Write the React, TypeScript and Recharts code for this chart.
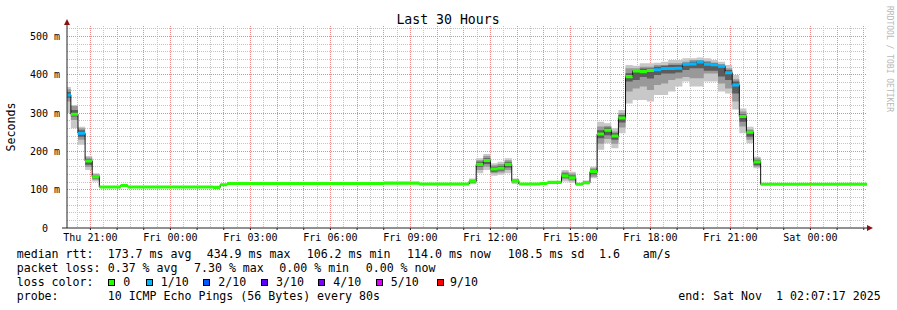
import React from "react";
import { ComposedChart, Area, XAxis, YAxis, CartesianGrid } from "recharts";

// time axis in hours relative to Thu 21:00, data consolidated in 16 minute steps
const FIRST_STEP = -1;
const STEP = 16 / 60;
const END = 29 + 7 / 60 + 17 / 3600; // Sat Nov 1 02:07:17
const START = END - 30;
const Y_MAX = 527;
const BOX = 4; // half height of the coloured median marker

// median rtt per step (ms)
const medianRtt = [
	347, 297, 247, 175, 134, 107, 107, 107, 111, 107,
	107, 107, 107, 107, 107, 107, 107, 107, 107, 107,
	107, 106, 113, 116, 116, 116, 116, 116, 116, 116,
	116, 116, 116, 116, 116, 116, 116, 116, 116, 116,
	116, 116, 116, 116, 116, 117, 117, 117, 117, 117,
	115, 115, 115, 115, 115, 115, 115, 122, 166, 176,
	154, 156, 166, 123, 115, 115, 115, 116, 119, 119,
	136, 131, 114, 118, 147, 245, 255, 240, 287, 395,
	410, 408, 411, 413, 416, 416, 417, 427, 428, 433,
	427, 426, 422, 405, 373, 291, 250, 172, 114, 114,
	114, 114, 114, 114, 114, 114, 114, 114, 114, 114,
	114, 114, 114,
];

// lost pings out of 10 per step
const lossTenths = [
	1, 0, 1, 0, 0, 0, 0, 0, 0, 0,
	0, 0, 0, 0, 0, 0, 0, 0, 0, 0,
	0, 0, 0, 0, 0, 0, 0, 0, 0, 0,
	0, 0, 0, 0, 0, 0, 0, 0, 0, 0,
	0, 0, 0, 0, 0, 0, 0, 0, 0, 0,
	0, 0, 0, 0, 0, 0, 0, 0, 0, 0,
	0, 0, 0, 0, 0, 0, 0, 0, 0, 0,
	0, 0, 0, 0, 0, 0, 0, 0, 0, 0,
	0, 0, 0, 1, 1, 1, 1, 1, 1, 1,
	1, 1, 1, 1, 1, 0, 0, 0, 0, 0,
	0, 0, 0, 0, 0, 0, 0, 0, 0, 0,
	0, 0, 0,
];

// smoke bands: [step, low, high] in ms
const smokeOuter: [number, number, number][] = [
	[0, 300, 368], [1, 260, 321], [2, 217, 264], [3, 151, 188], [4, 121, 143],
	[57, 114, 129], [58, 143, 182], [59, 151, 193], [60, 136, 169], [61, 139, 173],
	[62, 143, 182], [63, 115, 129], [70, 121, 151], [71, 118, 147], [73, 114, 124],
	[74, 130, 160], [75, 204, 277], [76, 221, 273], [77, 208, 260], [78, 247, 308],
	[79, 325, 425], [80, 334, 423], [81, 334, 430], [82, 330, 430], [83, 347, 431],
	[84, 347, 434], [85, 356, 438], [86, 369, 438], [87, 382, 443], [88, 369, 443],
	[89, 369, 445], [90, 382, 443], [91, 382, 438], [92, 356, 434], [93, 351, 425],
	[94, 309, 399], [95, 247, 312], [96, 221, 264], [97, 156, 186],
];
const smokeMid: [number, number, number][] = [
	[0, 330, 362], [1, 282, 318], [2, 230, 260], [3, 159, 184], [4, 126, 140],
	[57, 117, 126], [58, 151, 177], [59, 160, 188], [60, 143, 164], [61, 145, 167],
	[62, 151, 177], [63, 118, 127], [70, 127, 147], [71, 123, 142], [73, 115, 122],
	[74, 134, 156], [75, 220, 265], [76, 232, 266], [77, 220, 252], [78, 262, 300],
	[79, 356, 417], [80, 364, 417], [81, 369, 421], [82, 360, 421], [83, 373, 425],
	[84, 377, 425], [85, 386, 430], [86, 390, 430], [87, 394, 434], [88, 391, 438],
	[89, 391, 438], [90, 403, 436], [91, 403, 432], [92, 377, 428], [93, 364, 417],
	[94, 330, 388], [95, 265, 304], [96, 230, 257], [97, 160, 182],
];
const smokeInner: [number, number, number][] = [
	[0, 340, 355], [1, 291, 308], [2, 238, 255], [3, 165, 180], [4, 130, 138],
	[57, 119, 124], [58, 160, 173], [59, 167, 182], [60, 147, 160], [61, 150, 162],
	[62, 158, 172], [63, 120, 125], [70, 131, 142], [71, 127, 137], [73, 116, 120],
	[74, 140, 152], [75, 234, 255], [76, 242, 262], [77, 230, 247], [78, 275, 295],
	[79, 382, 404], [80, 386, 412], [81, 394, 416], [82, 390, 416], [83, 399, 421],
	[84, 403, 423], [85, 403, 425], [86, 406, 425], [87, 412, 430], [88, 417, 434],
	[89, 417, 436], [90, 410, 432], [91, 410, 430], [92, 395, 425], [93, 386, 412],
	[94, 351, 382], [95, 277, 297], [96, 238, 254], [97, 164, 177],
];

const xTickHours = [0, 3, 6, 9, 12, 15, 18, 21, 24, 27];
const xTickLabels = ["Thu 21:00", "Fri 00:00", "Fri 03:00", "Fri 06:00", "Fri 09:00", "Fri 12:00", "Fri 15:00", "Fri 18:00", "Fri 21:00", "Sat 00:00"];
const yTicks = [0, 100, 200, 300, 400, 500];

const lossLevels = [0, 1, 2, 3, 4, 5, 9];
const lossLabels = ["0", "1/10", "2/10", "3/10", "4/10", "5/10", "9/10"];
const lossColors = ["#26ff00", "#00b8ff", "#0059ff", "#5e00ff", "#7e00ff", "#dd00ff", "#ff0000"];

const SMOKE_COLORS = ["#c8c8c8", "#999999", "#5c5c5c"];
const FONT = "'DejaVu Sans Mono', monospace";

const bandAt = (band: [number, number, number][], k: number) => {
	const hit = band.find((b) => b[0] === k);
	return hit ? [hit[1], hit[2]] : null;
};

// two rows per step so every step is drawn as a flat segment
const rows: any[] = [];
medianRtt.forEach((m, k) => {
	const t0 = Math.max(FIRST_STEP + k * STEP, START);
	const t1 = Math.min(FIRST_STEP + (k + 1) * STEP, END);
	const row: any = {
		median: m,
		outer: bandAt(smokeOuter, k),
		mid: bandAt(smokeMid, k),
		inner: bandAt(smokeInner, k),
	};
	lossLevels.forEach((lvl) => {
		row[`box${lvl}`] = lossTenths[k] === lvl ? [m - BOX, m + BOX] : null;
	});
	rows.push({ t: t0, ...row }, { t: t1, ...row });
});

const hourLines: number[] = [];
const halfHourLines: number[] = [];
for (let h = 0; h <= 29; h++) hourLines.push(h);
for (let h = -0.5; h <= 29; h++) halfHourLines.push(h);
const minorY: number[] = [];
for (let v = 20; v <= 520; v += 20) if (v % 100 !== 0) minorY.push(v);
const majorY = [100, 200, 300, 400, 500];

// grid positions, same linear mapping as the axes use, snapped to pixel centres
const snap = (px: number) => Math.floor(px) + 0.5;
const xGrid = (values: number[]) => (p: any) =>
	values.map((h) => snap(p.offset.left + ((h - START) / (END - START)) * p.offset.width));
const yGrid = (values: number[]) => (p: any) =>
	values.map((v) => snap(p.offset.top + p.offset.height * (1 - v / Y_MAX)));

const XTick = (p: any) => {
	const i = xTickHours.indexOf(p.payload.value);
	if (i < 0) return <g />;
	return (
		<text x={p.x} y={241} textAnchor="middle" fontFamily={FONT} fontSize={10} fill="#000">
			{xTickLabels[i]}
		</text>
	);
};

const YTick = (p: any) => {
	const v = p.payload.value;
	return (
		<text x={v === 0 ? 48 : 60} y={p.y + 3.5} textAnchor="end" fontFamily={FONT} fontSize={10} fill="#000">
			{v === 0 ? "0" : `${v} m`}
		</text>
	);
};

const legendBoxX = [108.5, 146.5, 203.5, 261.5, 318.5, 376.5, 437.5];
const legendLabelX = [123.3, 160.7, 218.3, 276, 333.3, 390.7, 450];

export default function App() {
	return (
		<div style={{ position: "absolute", left: 0, top: 0, width: 897, height: 310, background: "#fff" }}>
			<ComposedChart width={897} height={310} data={rows} margin={{ top: 26, right: 30, bottom: 52, left: 7 }}>
				<CartesianGrid
					verticalCoordinatesGenerator={xGrid(halfHourLines)}
					horizontalCoordinatesGenerator={yGrid(minorY)}
					stroke="#c4c4c4"
					strokeDasharray="1 1"
				/>
				<CartesianGrid
					verticalCoordinatesGenerator={xGrid(hourLines)}
					horizontalCoordinatesGenerator={yGrid(majorY)}
					stroke="#f08a8a"
					strokeDasharray="1 1"
				/>
				<XAxis
					dataKey="t"
					type="number"
					domain={[START, END]}
					allowDataOverflow
					ticks={hourLines}
					interval={0}
					tick={(p: any) => <XTick {...p} />}
					tickSize={2}
					height={30}
					axisLine={{ stroke: "#222" }}
					tickLine={{ stroke: "#222" }}
				/>
				<YAxis
					type="number"
					domain={[0, Y_MAX]}
					allowDataOverflow
					ticks={yTicks}
					interval={0}
					width={60}
					tick={(p: any) => <YTick {...p} />}
					tickLine={false}
					axisLine={{ stroke: "#222" }}
				/>
				<Area dataKey="outer" type="linear" stroke="none" fill={SMOKE_COLORS[0]} fillOpacity={1} isAnimationActive={false} />
				<Area dataKey="mid" type="linear" stroke="none" fill={SMOKE_COLORS[1]} fillOpacity={1} isAnimationActive={false} />
				<Area dataKey="inner" type="linear" stroke="none" fill={SMOKE_COLORS[2]} fillOpacity={1} isAnimationActive={false} />
				<Area dataKey="median" type="linear" stroke="#111" strokeWidth={1} fill="none" dot={false} activeDot={false} isAnimationActive={false} />
				{lossLevels.map((lvl, i) => (
					<Area
						key={`box${lvl}`}
						dataKey={`box${lvl}`}
						type="linear"
						stroke="none"
						fill={lossColors[i]}
						fillOpacity={1}
						isAnimationActive={false}
					/>
				))}
			</ComposedChart>
			<svg width={897} height={310} style={{ position: "absolute", left: 0, top: 0, pointerEvents: "none" }}>
				<text x={448} y={24} textAnchor="middle" fontFamily={FONT} fontSize={13.2} fill="#000">
					Last 30 Hours
				</text>
				<text x={15} y={127} textAnchor="middle" fontFamily={FONT} fontSize={11.6} fill="#000" transform="rotate(-90 15 127)">
					Seconds
				</text>
				<text x={886.5} y={59} textAnchor="middle" fontFamily={FONT} fontSize={8} fill="#b8b8b8" transform="rotate(90 886.5 59)">
					RRDTOOL / TOBI OETIKER
				</text>
				<line x1={62} y1={228} x2={67} y2={228} stroke="#222" />
				<line x1={67} y1={22} x2={67} y2={26} stroke="#222" />
				<polygon points="67,19 64,25 70,25" fill="#8b1010" />
				<polygon points="873,228 867,225 867,231" fill="#8b1010" />
				<g fontFamily={FONT} fontSize={11.6} fill="#000">
					<text x={16.7} y={258}>median rtt:</text>
					<text x={107.7} y={258}>173.7 ms avg</text>
					<text x={206.7} y={258}>434.9 ms max</text>
					<text x={306.7} y={258}>106.2 ms min</text>
					<text x={407} y={258}>114.0 ms now</text>
					<text x={507.7} y={258}>108.5 ms sd</text>
					<text x={599} y={258}>1.6</text>
					<text x={642.7} y={258}>am/s</text>

					<text x={16.7} y={272}>packet loss:</text>
					<text x={107.7} y={272}>0.37 % avg</text>
					<text x={194} y={272}>7.30 % max</text>
					<text x={279.3} y={272}>0.00 % min</text>
					<text x={365.7} y={272}>0.00 % now</text>

					<text x={16.7} y={286}>loss color:</text>
					{lossLabels.map((l, i) => (
						<text key={l} x={legendLabelX[i]} y={286}>
							{l}
						</text>
					))}

					<text x={16.7} y={300}>probe:</text>
					<text x={107.7} y={300}>10 ICMP Echo Pings (56 Bytes) every 80s</text>
					<text x={678.3} y={300} style={{ whiteSpace: "pre" }}>end: Sat Nov  1 02:07:17 2025</text>
				</g>
				{lossColors.map((c, i) => (
					<rect key={c} x={legendBoxX[i]} y={279.5} width={6} height={6} fill={c} stroke="#000" strokeWidth={1} />
				))}
			</svg>
		</div>
	);
}
